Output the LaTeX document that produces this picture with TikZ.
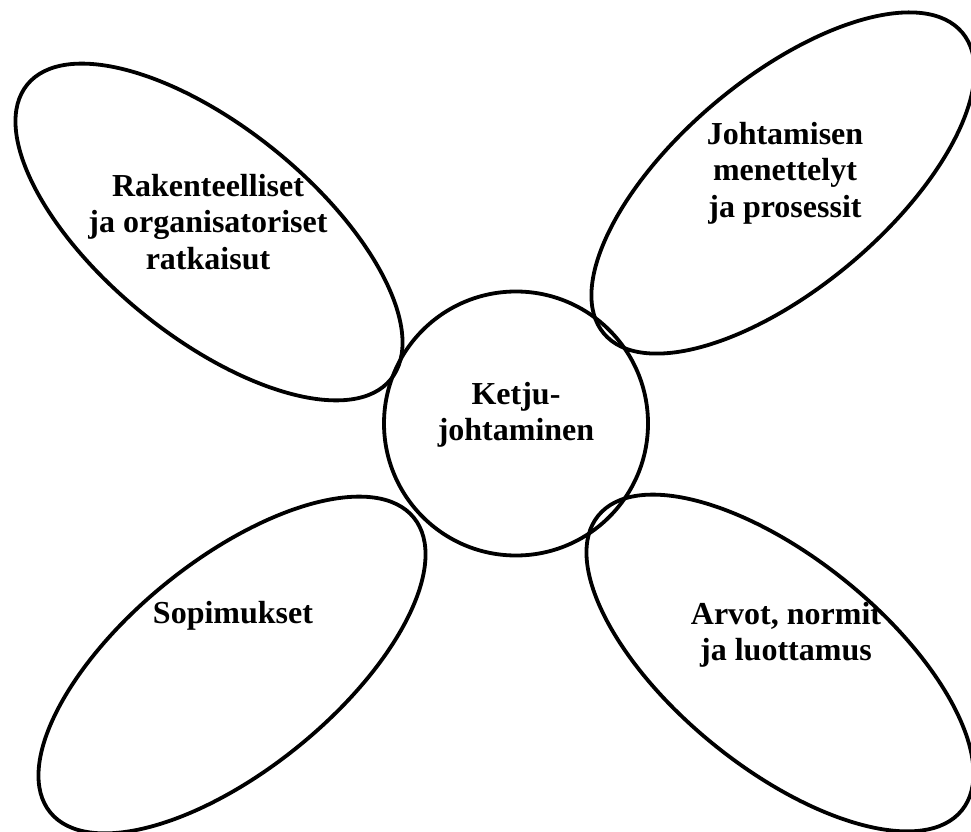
\documentclass[tikz,border=0pt]{standalone}
\usepackage{fontspec}
\setmainfont{Liberation Serif}
\usetikzlibrary{shapes.geometric}

\begin{document}
\begin{tikzpicture}[
  x=1pt, y=1pt,
  font=\bfseries\fontsize{32}{36.5}\selectfont,
  petal/.style={draw, ellipse, line width=3.8pt, inner sep=0pt, outer sep=0pt,
    minimum width=468pt, minimum height=210pt},
  hub/.style={draw, circle, line width=3.8pt, inner sep=0pt, outer sep=0pt,
    minimum size=264pt},
  lbl/.style={align=center, inner sep=0pt},
]
\useasboundingbox (0,0) rectangle (971,831);

% ---------- CENTRE ----------
\node[hub] (hub) at (516,407.5) {};
\node[lbl] (hubtxt) at (516,416) {Ketju-\\johtaminen};

% ---------- PETALS ----------
\node[petal, rotate=-39] (petalTL) at (209,599) {};
\node[petal, rotate=40]  (petalTR) at (783,648) {};
\node[petal, rotate=39]  (petalBL) at (232,166) {};
\node[petal, rotate=-39] (petalBR) at (780,168) {};

% ---------- LABELS ----------
\node[lbl] (txtTL) at (208,609) {Rakenteelliset\\ja organisatoriset\\ratkaisut};
\node[lbl] (txtTR) at (785,658) {Johtamisen\\menettelyt\\ja prosessit};
\node[lbl] (txtBL) at (233,215) {Sopimukset};
\node[lbl] (txtBR) at (786,196) {Arvot, normit\\ja luottamus};

\end{tikzpicture}
\end{document}
